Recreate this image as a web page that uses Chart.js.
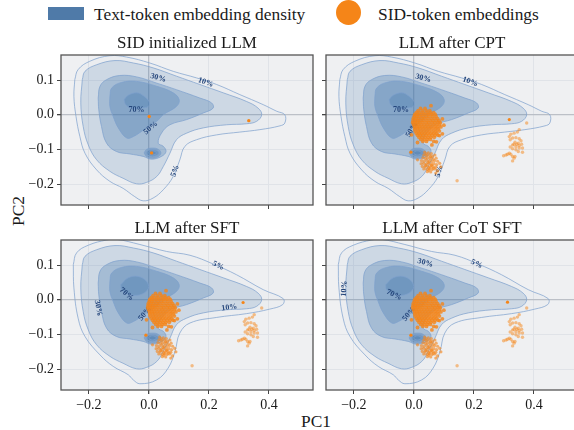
<!DOCTYPE html>
<html>
<head>
<meta charset="utf-8">
<script src="https://cdn.jsdelivr.net/npm/chart.js@4"></script>
<style>
  html, body { margin: 0; padding: 0; background: #fff; overflow: hidden; width: 574px; height: 430px; }
  body { position: relative; font-family: "Liberation Serif", serif; color: #1a1a1a; }
  .box { position: absolute; }
  .box canvas { display: block; }
  .txt { position: absolute; font-size: 17.4px; white-space: nowrap; line-height: 18px; }
</style>
</head>
<body>
<div class="box" style="left:48px;top:7px;width:36px;height:13px;background:#4f7aa8"></div>
<div class="txt" style="left:94px;top:5px">Text-token embedding density</div>
<div class="box" style="left:336px;top:0px;width:25px;height:25px;border-radius:50%;background:#f58518"></div>
<div class="txt" style="left:378px;top:5px">SID-token embeddings</div>
<div class="txt" style="left:301px;top:412px">PC1</div>
<div class="txt" style="left:1px;top:202px;transform:rotate(-90deg);width:34px;text-align:center">PC2</div>

<div class="box" style="left:6px;top:34px"><canvas id="c1" width="317" height="196"></canvas></div>
<div class="box" style="left:271px;top:34px"><canvas id="c2" width="317" height="196"></canvas></div>
<div class="box" style="left:6px;top:219px"><canvas id="c3" width="317" height="196"></canvas></div>
<div class="box" style="left:271px;top:219px"><canvas id="c4" width="317" height="196"></canvas></div>

<script>
const xTicks = [-0.2, 0, 0.2, 0.4];
const yTicks = [-0.2, -0.1, 0, 0.1];
const titles = ["SID initialized LLM", "LLM after CPT", "LLM after SFT", "LLM after CoT SFT"];

// density contours
const contour5a = [[-0.247,0.101],[-0.236,0.130],[-0.197,0.154],[-0.13,0.170],[-0.074,0.166],[0.003,0.149],[0.081,0.125],[0.159,0.106],[0.226,0.087],[0.303,0.058],[0.381,0.029],[0.426,0.010],[0.453,0],[0.453,-0.024],[0.437,-0.032],[0.37,-0.043],[0.303,-0.05],[0.226,-0.058],[0.159,-0.072],[0.12,-0.091],[0.103,-0.13],[0.081,-0.178],[0.048,-0.216],[0.014,-0.24],[-0.019,-0.248],[-0.047,-0.236],[-0.086,-0.212],[-0.13,-0.192],[-0.174,-0.159],[-0.213,-0.111],[-0.23,-0.063],[-0.243,-0.005],[-0.25,0.053],[-0.247,0.101]];
const contour5b = [[-0.252,0.101],[-0.241,0.135],[-0.202,0.157],[-0.141,0.172],[-0.108,0.174],[-0.03,0.159],[0.059,0.139],[0.137,0.128],[0.214,0.103],[0.292,0.072],[0.381,0.029],[0.448,0.003],[0.446,-0.014],[0.403,-0.027],[0.326,-0.04],[0.226,-0.051],[0.137,-0.067],[0.103,-0.096],[0.087,-0.149],[0.064,-0.197],[0.026,-0.231],[-0.03,-0.242],[-0.052,-0.231],[-0.069,-0.216],[-0.119,-0.192],[-0.163,-0.159],[-0.213,-0.106],[-0.236,-0.053],[-0.25,0.034],[-0.252,0.101]];
const contour10 = [[-0.222,0.101],[-0.213,0.125],[-0.174,0.144],[-0.113,0.156],[-0.052,0.149],[0.014,0.135],[0.092,0.111],[0.17,0.087],[0.248,0.063],[0.326,0.038],[0.364,0.019],[0.376,0],[0.359,-0.019],[0.326,-0.026],[0.259,-0.029],[0.181,-0.038],[0.126,-0.053],[0.092,-0.072],[0.07,-0.111],[0.048,-0.149],[0.026,-0.178],[-0.008,-0.195],[-0.041,-0.199],[-0.086,-0.183],[-0.13,-0.163],[-0.174,-0.13],[-0.202,-0.087],[-0.219,-0.034],[-0.227,0.034],[-0.222,0.101]];
const contour30 = [[-0.169,0.048],[-0.163,0.082],[-0.141,0.101],[-0.097,0.113],[-0.041,0.109],[0.026,0.091],[0.092,0.072],[0.17,0.048],[0.209,0.034],[0.214,0.019],[0.181,0.005],[0.126,-0.014],[0.07,-0.029],[0.042,-0.053],[0.031,-0.082],[0.048,-0.091],[0.057,-0.106],[0.042,-0.120],[0.009,-0.128],[-0.019,-0.12],[-0.063,-0.113],[-0.108,-0.106],[-0.141,-0.082],[-0.158,-0.034],[-0.167,0.014],[-0.169,0.048]];
const contour50 = [[-0.13,0.053],[-0.124,0.077],[-0.091,0.093],[-0.041,0.096],[0.026,0.082],[0.081,0.063],[0.101,0.043],[0.092,0.024],[0.048,0],[0.026,-0.019],[-0.008,-0.038],[-0.052,-0.063],[-0.074,-0.067],[-0.102,-0.038],[-0.119,-0.005],[-0.13,0.024],[-0.13,0.053]];
const contour70a = [[-0.083,0.043],[-0.069,0.056],[-0.041,0.063],[-0.019,0.055],[0,0.038],[-0.002,0.024],[-0.03,0.019],[-0.058,0.019],[-0.077,0.029],[-0.083,0.043]];
const contour70b = [[-0.094,0.043],[-0.069,0.063],[-0.036,0.067],[-0.008,0.053],[-0.002,0.032],[-0.03,0.014],[-0.069,0.016],[-0.091,0.029],[-0.094,0.043]];
const blobRing1 = [[-0.016,-0.11],[-0.008,-0.1],[0.012,-0.096],[0.032,-0.1],[0.04,-0.11],[0.032,-0.12],[0.012,-0.125],[-0.008,-0.12],[-0.016,-0.11]];
const blobRing2 = [[-0.009,-0.11],[-0.003,-0.103],[0.012,-0.1],[0.027,-0.103],[0.033,-0.11],[0.027,-0.117],[0.012,-0.12],[-0.003,-0.117],[-0.009,-0.11]];
const blobRing3 = [[-0.001,-0.11],[0.003,-0.106],[0.012,-0.104],[0.021,-0.106],[0.025,-0.11],[0.021,-0.114],[0.012,-0.116],[0.003,-0.114],[-0.001,-0.11]];

// SID token embeddings
const mainCluster = [
  [0.022,0.018],[0.037,0.018],
  [0.014,0.012],[0.028,0.012],[0.041,0.012],[0.053,0.012],
  [0.008,0.006],[0.019,0.006],[0.031,0.006],[0.044,0.006],[0.055,0.006],[0.066,0.006],
  [0.003,0.001],[0.012,0.001],[0.024,0.001],[0.036,0.001],[0.048,0.001],[0.059,0.001],[0.071,0.001],
  [0.001,-0.005],[0.009,-0.005],[0.018,-0.005],[0.029,-0.005],[0.04,-0.005],[0.05,-0.005],[0.062,-0.005],[0.074,-0.005],
  [-0.002,-0.011],[0.006,-0.011],[0.015,-0.011],[0.026,-0.011],[0.035,-0.011],[0.046,-0.011],[0.057,-0.011],[0.068,-0.011],[0.079,-0.011],
  [-0.003,-0.017],[0.005,-0.017],[0.013,-0.017],[0.022,-0.017],[0.032,-0.017],[0.043,-0.017],[0.054,-0.017],[0.064,-0.017],[0.075,-0.017],[0.084,-0.017],
  [-0.004,-0.023],[0.004,-0.023],[0.012,-0.023],[0.02,-0.023],[0.03,-0.023],[0.041,-0.023],[0.05,-0.023],[0.061,-0.023],[0.07,-0.023],[0.08,-0.023],[0.088,-0.023],
  [-0.001,-0.029],[0.007,-0.029],[0.016,-0.029],[0.025,-0.029],[0.035,-0.029],[0.045,-0.029],[0.055,-0.029],[0.066,-0.029],[0.076,-0.029],[0.086,-0.029],
  [0.002,-0.035],[0.01,-0.035],[0.018,-0.035],[0.028,-0.035],[0.038,-0.035],[0.048,-0.035],[0.058,-0.035],[0.069,-0.035],[0.079,-0.035],[0.09,-0.035],
  [0.003,-0.041],[0.012,-0.041],[0.021,-0.041],[0.031,-0.041],[0.041,-0.041],[0.051,-0.041],[0.061,-0.041],[0.072,-0.041],[0.082,-0.041],
  [0.004,-0.047],[0.014,-0.047],[0.023,-0.047],[0.033,-0.047],[0.043,-0.047],[0.053,-0.047],[0.064,-0.047],[0.074,-0.047],[0.085,-0.047],
  [0.008,-0.053],[0.017,-0.053],[0.026,-0.053],[0.036,-0.053],[0.046,-0.053],[0.056,-0.053],[0.066,-0.053],[0.076,-0.053],
  [0.012,-0.059],[0.021,-0.059],[0.03,-0.059],[0.04,-0.059],[0.05,-0.059],[0.06,-0.059],[0.07,-0.059],[0.08,-0.059],
  [0.017,-0.065],[0.027,-0.065],[0.037,-0.065],[0.047,-0.065],[0.057,-0.065],[0.068,-0.065],
  [0.023,-0.071],[0.034,-0.071],[0.045,-0.071],[0.055,-0.071],
  [0.03,-0.077],[0.042,-0.077],[0.066,-0.077],
  [0.057,0.026],[0.1,-0.03],[0.095,-0.055],[0.085,-0.06],[0.075,-0.078],[0.06,-0.087],[0.012,-0.08],[-0.008,-0.058],[0.095,-0.012]
];
const lowerCluster = [
  [0.036,-0.108],[0.048,-0.11],[0.058,-0.112],[0.033,-0.116],[0.042,-0.118],[0.052,-0.117],[0.062,-0.12],[0.07,-0.116],
  [0.03,-0.124],[0.038,-0.126],[0.046,-0.124],[0.055,-0.126],[0.064,-0.128],[0.074,-0.125],[0.025,-0.132],[0.034,-0.134],
  [0.043,-0.131],[0.052,-0.133],[0.06,-0.135],[0.069,-0.132],[0.079,-0.134],[0.024,-0.141],[0.032,-0.14],[0.041,-0.142],
  [0.05,-0.14],[0.059,-0.143],[0.067,-0.141],[0.076,-0.144],[0.086,-0.14],[0.028,-0.149],[0.037,-0.15],[0.046,-0.148],
  [0.055,-0.15],[0.064,-0.149],[0.073,-0.151],[0.033,-0.156],[0.043,-0.157],[0.052,-0.156],[0.061,-0.158],[0.07,-0.156],
  [0.045,-0.164],[0.056,-0.165],[0.073,-0.168],[0.079,-0.162],[0.012,-0.13],[0.09,-0.15],
  [0.041,-0.113],[0.056,-0.121],[0.047,-0.137],[0.039,-0.146],[0.058,-0.146],[0.05,-0.153],[0.064,-0.154],[0.05,-0.16]
];
const rightCluster = [
  [0.351,-0.043],[0.345,-0.05],[0.334,-0.053],[0.323,-0.056],[0.318,-0.063],[0.321,-0.072],[0.329,-0.067],[0.34,-0.066],[0.351,-0.069],
  [0.357,-0.075],[0.348,-0.082],[0.337,-0.079],[0.329,-0.087],[0.321,-0.093],[0.329,-0.098],[0.34,-0.092],[0.351,-0.089],[0.359,-0.085],
  [0.362,-0.096],[0.351,-0.096],[0.34,-0.101],[0.348,-0.106],[0.362,-0.108],[0.318,-0.111],[0.307,-0.116],[0.299,-0.118],[0.329,-0.12],
  [0.334,-0.125],[0.329,-0.133],[0.337,-0.12],[0.323,-0.114],[0.334,-0.085],[0.343,-0.085],[0.312,-0.114],[0.376,-0.024],[0.144,-0.19]
];
const singleDots1 = [[0.001,-0.005],[0.333,-0.017],[0.009,-0.11]];
const singleDots2 = [[0.318,-0.014],[-0.01,-0.108]];
const singleDots3 = [[0.314,-0.008],[-0.01,-0.102]];
const singleDots4 = [[0.312,-0.007],[-0.01,-0.102]];

// contour labels: text, x, y, rotation in degrees
const labels1 = [["30%",0.031,0.106,15],["10%",0.189,0.093,20],["70%",-0.041,0.013,0],["50%",0.006,-0.038,-40],["5%",0.087,-0.162,-70]];
const labels2 = [["30%",0.031,0.105,15],["10%",0.188,0.095,20],["70%",-0.043,0.014,0],["50%",-0.007,-0.043,-60],["5%",0.084,-0.163,-75]];
const labels3 = [["5%",0.231,0.098,25],["10%",0.268,-0.022,-8],["30%",-0.169,-0.024,80],["70%",-0.074,0.016,40],["50%",-0.013,-0.04,-50]];
const labels4 = [["30%",0.038,0.106,15],["5%",0.209,0.103,25],["10%",-0.232,0.032,-85],["70%",-0.066,0.014,25],["50%",-0.016,-0.041,-50]];

function pts(list) {
  return list.map(p => ({ x: p[0], y: p[1] }));
}

function contour(list, alpha) {
  return {
    data: pts(list),
    showLine: true,
    fill: "shape",
    backgroundColor: "rgba(62,115,172," + alpha + ")",
    borderColor: "rgba(125,160,205,0.8)",
    borderWidth: 0.9,
    tension: 0.4,
    pointRadius: 0
  };
}

function dots(list, alpha, r) {
  return {
    data: pts(list),
    showLine: false,
    pointRadius: r,
    pointBorderWidth: 0,
    pointBackgroundColor: "rgba(245,133,24," + alpha + ")"
  };
}

const panelPlugin = {
  id: "panel",
  beforeDraw(chart) {
    const a = chart.chartArea;
    chart.ctx.fillStyle = "#eff0f2";
    chart.ctx.fillRect(a.left, a.top, a.width, a.height);
  },
  // labels sit under the orange points, so draw them just before the dots
  beforeDatasetDraw(chart, args) {
    if (args.index !== chart.data.datasets.length - 9) return;
    const ctx = chart.ctx;
    ctx.save();
    ctx.font = "bold 8px 'Liberation Serif'";
    ctx.fillStyle = "#26477c";
    ctx.textAlign = "center";
    ctx.textBaseline = "middle";
    chart.options.contourLabels.forEach(l => {
      ctx.save();
      ctx.translate(chart.scales.x.getPixelForValue(l[1]), chart.scales.y.getPixelForValue(l[2]));
      ctx.rotate(l[3] * Math.PI / 180);
      ctx.fillText(l[0], 0, 0);
      ctx.restore();
    });
    ctx.restore();
  },
  afterDraw(chart) {
    const a = chart.chartArea;
    chart.ctx.strokeStyle = "#555";
    chart.ctx.lineWidth = 1.3;
    chart.ctx.strokeRect(a.left, a.top, a.width, a.height);
  }
};

function tickText(v) {
  return v.toFixed(1).replace("-", "\u2212");
}

function drawPanel(id, title, c5, c70, cloud, lab, showX, showY) {
  const sets = [];
  cloud.forEach(c => sets.push(c));
  sets.push(contour(blobRing3, 0.3), contour(blobRing2, 0.3), contour(blobRing1, 0.3));
  sets.push(contour(c70, 0.3), contour(contour50, 0.3), contour(contour30, 0.28), contour(contour10, 0.17), contour(c5, 0.02));

  new Chart(document.getElementById(id), {
    type: "scatter",
    data: { datasets: sets },
    plugins: [panelPlugin],
    options: {
      responsive: false,
      animation: false,
      contourLabels: lab,
      layout: { padding: { left: 0, right: 10, top: 0, bottom: 0 } },
      plugins: {
        legend: { display: false },
        tooltip: { enabled: false },
        title: {
          display: true,
          fullSize: false,
          text: title,
          color: "#1a1a1a",
          font: { family: "Liberation Serif", size: 17, weight: "normal", lineHeight: 18 / 17 },
          padding: { top: 1, bottom: 2 }
        }
      },
      scales: {
        x: {
          type: "linear",
          min: -0.293,
          max: 0.547,
          afterBuildTicks: s => { s.ticks = xTicks.map(v => ({ value: v })); },
          afterFit: s => { s.height = 25; },
          ticks: {
            display: showX,
            callback: tickText,
            color: "#1a1a1a",
            maxRotation: 0,
            padding: 3,
            font: { family: "Liberation Serif", size: 14 }
          },
          border: { display: false },
          grid: {
            tickLength: 4,
            tickColor: "#444",
            color: c => (c.tick && c.tick.value === 0 ? "#bcc0c7" : "#e0e3e8"),
            lineWidth: c => (c.tick && c.tick.value === 0 ? 1.3 : 1)
          }
        },
        y: {
          type: "linear",
          min: -0.26,
          max: 0.172,
          afterBuildTicks: s => { s.ticks = yTicks.map(v => ({ value: v })); },
          afterFit: s => { s.width = 55; },
          ticks: {
            display: showY,
            callback: tickText,
            color: "#1a1a1a",
            padding: 3,
            font: { family: "Liberation Serif", size: 14 }
          },
          border: { display: false },
          grid: {
            tickLength: 4,
            tickColor: "#444",
            color: c => (c.tick && c.tick.value === 0 ? "#bcc0c7" : "#e0e3e8"),
            lineWidth: c => (c.tick && c.tick.value === 0 ? 1.3 : 1)
          }
        }
      }
    }
  });
}

function cloudFor(single) {
  return [dots(single, 1, 1.6), dots(mainCluster, 0.8, 1.9), dots(lowerCluster, 0.62, 1.6), dots(rightCluster, 0.5, 1.7)];
}

drawPanel("c1", titles[0], contour5a, contour70a, [dots(singleDots1, 1, 1.7)], labels1, false, true);
drawPanel("c2", titles[1], contour5a, contour70a, cloudFor(singleDots2), labels2, false, false);
drawPanel("c3", titles[2], contour5b, contour70b, cloudFor(singleDots3), labels3, true, true);
drawPanel("c4", titles[3], contour5b, contour70b, cloudFor(singleDots4), labels4, true, false);
</script>
</body>
</html>
